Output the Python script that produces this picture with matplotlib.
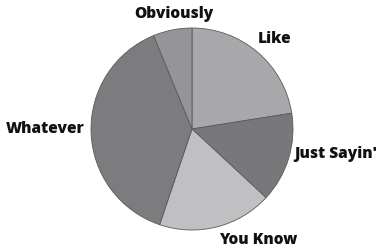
import matplotlib
matplotlib.use("Agg")
import matplotlib.pyplot as plt

# slices, clockwise from 12 o'clock
labels = ["Like", "Just Sayin'", "You Know", "Whatever", "Obviously"]
values = [22.5, 14.4, 18.3, 38.6, 6.2]
colors = ["#a8a8aa", "#78787b", "#c0c0c2", "#7c7c7f", "#959597"]

# label spots (data units, pie radius = 1)
label_pos = [(0.82, 0.89), (1.42, -0.25), (0.66, -1.10), (-1.45, 0.0), (-0.18, 1.14)]

fig = plt.figure(figsize=(3.78, 2.48), dpi=100)
ax = fig.add_axes([0, 0, 1, 1])

ax.pie(values, colors=colors, startangle=90, counterclock=False, radius=1,
       wedgeprops=dict(edgecolor="#5a5a5c", linewidth=0.6))

for lab, (x, y) in zip(labels, label_pos):
    ax.text(x, y, lab, ha="center", va="center", fontsize=11.2,
            fontweight=800, family="Open Sans", color="#111111")

# map centre to ~(192,129) px, radius ~101 px
ax.set_xlim(-192 / 101, (378 - 192) / 101)
ax.set_ylim(-(248 - 129) / 101, 129 / 101)
ax.set_aspect("auto")
ax.axis("off")

fig.savefig("out.png", dpi=100)
